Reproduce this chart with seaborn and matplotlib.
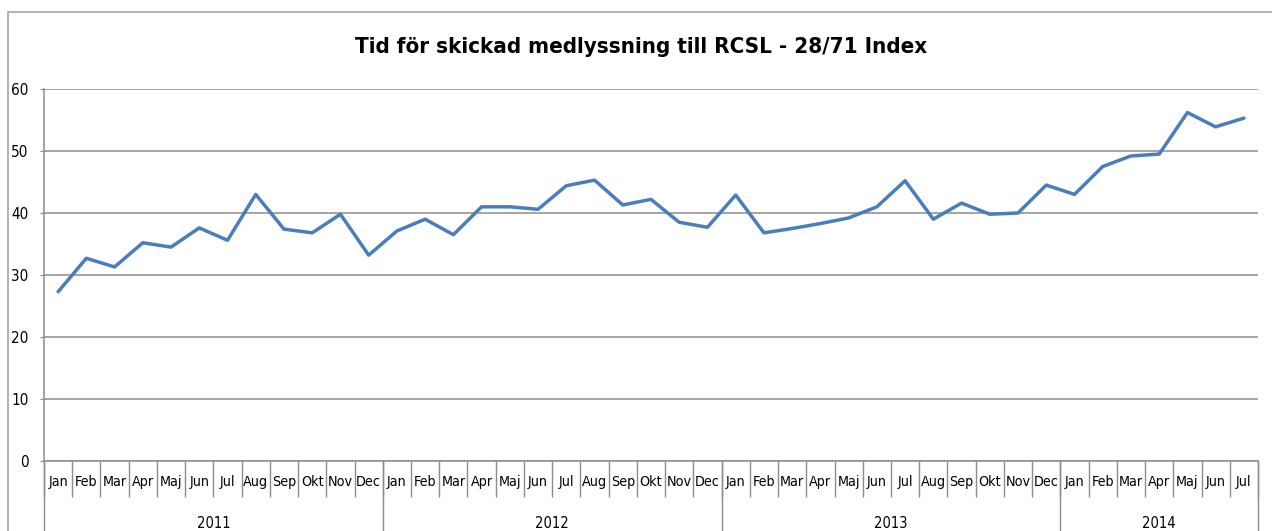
import numpy as np
import pandas as pd
import seaborn as sns
import matplotlib.pyplot as plt
from matplotlib.lines import Line2D

# data
month_names = ['Jan', 'Feb', 'Mar', 'Apr', 'Maj', 'Jun', 'Jul', 'Aug', 'Sep', 'Okt', 'Nov', 'Dec']
years = ['2011', '2012', '2013', '2014']
months_per_year = [12, 12, 12, 7]
values = [
    27.3, 32.7, 31.3, 35.2, 34.5, 37.6, 35.6, 43.0, 37.4, 36.8, 39.8, 33.2,
    37.1, 39.0, 36.5, 41.0, 41.0, 40.6, 44.4, 45.3, 41.3, 42.2, 38.5, 37.7,
    42.9, 36.8, 37.5, 38.3, 39.2, 41.0, 45.2, 39.0, 41.6, 39.8, 40.0, 44.5,
    43.0, 47.5, 49.2, 49.5, 56.2, 53.9, 55.3,
]

labels = [m for n in months_per_year for m in month_names[:n]]
df = pd.DataFrame({'pos': np.arange(len(values)), 'index': values, 'month': labels})

sns.set_style('white')
plt.rcParams['font.family'] = ['DejaVu Sans']
plt.rcParams['font.stretch'] = 'condensed'
plt.rcParams['text.color'] = 'black'

W, H = 1272, 531
fig = plt.figure(figsize=(W / 100, H / 100), dpi=100)
ax = fig.add_axes([44 / W, 1 - 461 / H, (1258 - 44) / W, (461 - 89) / H])

sns.lineplot(data=df, x='pos', y='index', color='#4A7EBB', linewidth=2.5, ax=ax)

grey = '#8C8C8C'
ax.set_xlim(-0.5, len(values) - 0.5)
ax.set_ylim(0, 60)
ax.set_yticks(range(0, 61, 10))
ax.yaxis.grid(True, color=grey, linewidth=1.1)
ax.set_axisbelow(True)
ax.tick_params(axis='y', left=True, length=3, color=grey, labelcolor='black', labelsize=11, pad=8)
for s in ['top', 'right']:
    ax.spines[s].set_visible(False)
for s in ['left', 'bottom']:
    ax.spines[s].set_color(grey)
    ax.spines[s].set_linewidth(1.1)

# month labels, with separators between them
ax.set_xticks(df['pos'])
ax.set_xticklabels(df['month'], fontsize=10.3)
ax.tick_params(axis='x', which='major', length=0, pad=10, labelcolor='black')
ax.set_xticks(np.arange(-0.5, len(values), 1), minor=True)
ax.tick_params(axis='x', which='minor', bottom=True, length=26, color=grey, width=1)
ax.set_xlabel('')
ax.set_ylabel('')

# year row
tr = ax.get_xaxis_transform()
start = 0
bounds = [-0.5]
for yr, n in zip(years, months_per_year):
    ax.text(start + (n - 1) / 2, -0.168, yr, transform=tr, ha='center', va='center', fontsize=10.5)
    start += n
    bounds.append(start - 0.5)
for b in bounds:
    ax.add_line(Line2D([b, b], [0, -0.2], transform=tr, color=grey, linewidth=1, clip_on=False))

# outer chart frame
fig.add_artist(Line2D([8 / W, 8 / W], [0, 1 - 12 / H], color='#A6A6A6', linewidth=1.2))
fig.add_artist(Line2D([8 / W, 1], [1 - 12 / H, 1 - 12 / H], color='#A6A6A6', linewidth=1.2))

fig.text(641 / W, 1 - 47 / H, 'Tid för skickad medlyssning till RCSL - 28/71 Index',
         ha='center', va='center', fontsize=16, fontweight='bold')

fig.savefig('out.png', dpi=100)
